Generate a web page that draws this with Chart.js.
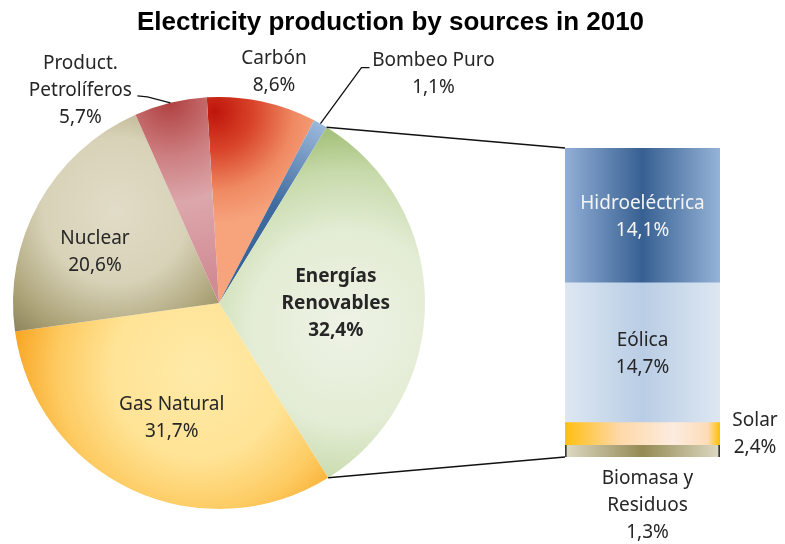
<!DOCTYPE html>
<html>
<head>
<meta charset="utf-8">
<script src="https://cdn.jsdelivr.net/npm/chart.js@4.4.1/dist/chart.umd.min.js"></script>
<style>
  body { margin: 0; background: #fff; }
  #wrap { position: relative; width: 785px; height: 544px; }
  #wrap canvas { position: absolute; left: 0; top: 0; }
</style>
</head>
<body>
<div id="wrap">
  <canvas id="pie" width="785" height="544"></canvas>
  <canvas id="bar" width="785" height="544"></canvas>
</div>
<script>
// electricity sources, share of total (%)
const sourceNames = [['Carbón'], ['Bombeo Puro'], ['Energías', 'Renovables'], ['Gas Natural'], ['Nuclear'], ['Product.', 'Petrolíferos']];
const sourceValues = [8.6, 1.1, 32.4, 31.7, 20.6, 5.7];

// breakdown of the renewables slice
const renewNames = [['Hidroeléctrica'], ['Eólica'], ['Solar'], ['Biomasa y', 'Residuos']];
const renewValues = [14.1, 14.7, 2.4, 1.3];

const chartTitle = 'Electricity production by sources in 2010';

const RENEW_INDEX = 2;
const TEXT = '#262626';
const LABEL_FONT = '19px "Noto Sans"';
const LINE_H = 27;

const pct = v => v.toFixed(1).replace('.', ',') + '%';

// radial shading per slice: centre (in radii from pie centre), reach, stops
const pieShading = [
  { at: [-0.02, -0.93], r: 0.55, stops: [[0, '#bf150b'], [0.35, '#d9452a'], [0.7, '#ef8a63'], [1, '#f7a47d']] },
  { at: [0, 0], r: 1, stops: [[0, '#345f93'], [0.55, '#3f6b9f'], [1, '#9bb8dc']] },
  { at: [0.62, 0.12], r: 0.95, stops: [[0, '#eef3e6'], [0.5, '#e3ecd4'], [0.8, '#c7daab'], [1, '#a6c27b']] },
  { at: [-0.1, 0.33], r: 0.95, stops: [[0, '#ffeaa8'], [0.45, '#ffe395'], [0.72, '#fdcb62'], [1, '#f89e18']] },
  { at: [-0.5, -0.45], r: 0.78, stops: [[0, '#e1dcc7'], [0.45, '#d8d2b8'], [0.8, '#aba276'], [1, '#8a815b']] },
  { at: [-0.24, -0.98], r: 0.9, stops: [[0, '#b03f3f'], [0.3, '#cd7f81'], [0.55, '#dca7ab'], [1, '#d18b93']] }
];

// horizontal shading for the stacked bar segments
const barShading = [
  [[0, '#92afd6'], [0.5, '#376092'], [1, '#95b3d7']],
  [[0, '#dde7f2'], [0.5, '#b9cde5'], [1, '#dde7f2']],
  [[0, '#ffbf10'], [0.35, '#fed8a8'], [0.7, '#fcecdf'], [0.92, '#fddcb8'], [1, '#ffc000']],
  [[0, '#ddd9c3'], [0.5, '#948a54'], [1, '#ddd9c3']]
];

// where each slice label sits: polar point (fraction of radius) + nudge
const pieLabelPos = [
  { frac: 1, dx: 12, dy: -29 },
  { frac: 1, dx: 113, dy: -50, leader: [[-72, -6], [-64, -6]] },
  { frac: 0.567, dx: 0, dy: 1, bold: true },
  { frac: 0.6, dx: 5, dy: 3 },
  { frac: 0.65, dx: -7, dy: 14 },
  { frac: 1, dx: -90, dy: -12, leader: [[67, 6], [57, 5]] }
];

function pieFill(ctx) {
  const area = ctx.chart.chartArea;
  if (!area || ctx.dataIndex === undefined) return '#ccc';
  const cx = (area.left + area.right) / 2;
  const cy = (area.top + area.bottom) / 2;
  const R = Math.min(area.width, area.height) / 2;
  const s = pieShading[ctx.dataIndex];
  const gx = cx + s.at[0] * R, gy = cy + s.at[1] * R;
  const g = ctx.chart.ctx.createRadialGradient(gx, gy, 0, gx, gy, s.r * R);
  s.stops.forEach(([o, c]) => g.addColorStop(o, c));
  return g;
}

function barFill(ctx) {
  const area = ctx.chart.chartArea;
  if (!area) return '#ccc';
  const g = ctx.chart.ctx.createLinearGradient(area.left, 0, area.right, 0);
  barShading[ctx.datasetIndex].forEach(([o, c]) => g.addColorStop(o, c));
  return g;
}

function drawLines(c, lines, x, y) {
  const top = y - (lines.length - 1) * LINE_H / 2;
  lines.forEach((t, i) => c.fillText(t, x, top + i * LINE_H));
}

const pieLabels = {
  id: 'pieLabels',
  afterDatasetsDraw(chart) {
    const c = chart.ctx;
    const arcs = chart.getDatasetMeta(0).data;
    c.save();

    // heading across the whole canvas
    c.fillStyle = '#000';
    c.font = 'bold 26px "Liberation Sans", Arial';
    c.textAlign = 'center';
    c.textBaseline = 'alphabetic';
    c.fillText(chartTitle, chart.width / 2 - 2, 30);

    c.textBaseline = 'middle';
    arcs.forEach((arc, i) => {
      const p = pieLabelPos[i];
      const mid = (arc.startAngle + arc.endAngle) / 2;
      const ox = arc.x + Math.cos(mid) * arc.outerRadius;
      const oy = arc.y + Math.sin(mid) * arc.outerRadius;
      const lx = arc.x + Math.cos(mid) * arc.outerRadius * p.frac + p.dx;
      const ly = arc.y + Math.sin(mid) * arc.outerRadius * p.frac + p.dy;
      if (p.leader) {
        c.strokeStyle = '#111';
        c.lineWidth = 1.3;
        c.beginPath();
        c.moveTo(ox, oy);
        p.leader.forEach(([dx, dy]) => c.lineTo(lx + dx, ly + dy));
        c.stroke();
      }
      c.fillStyle = TEXT;
      c.font = (p.bold ? 'bold ' : '') + LABEL_FONT;
      drawLines(c, sourceNames[i].concat(pct(sourceValues[i])), lx, ly);
    });
    c.restore();
  }
};

const pieChart = new Chart(document.getElementById('pie'), {
  type: 'pie',
  data: {
    labels: sourceNames.map(n => n.join(' ')),
    datasets: [{
      data: sourceValues,
      backgroundColor: pieFill,
      borderWidth: 0,
      hoverBorderWidth: 0,
      offset: 0,
      hoverOffset: 0
    }]
  },
  options: {
    responsive: false,
    animation: false,
    events: [],
    rotation: -3.4,
    layout: { padding: { left: 13, right: 360, top: 97, bottom: 35 } },
    plugins: {
      legend: { display: false },
      tooltip: { enabled: false },
      title: { display: false }
    }
  },
  plugins: [pieLabels]
});

// lines from the renewables slice to the bar, plus the bar labels
const barDecor = {
  id: 'barDecor',
  afterDatasetsDraw(chart) {
    const c = chart.ctx;
    const arc = pieChart.getDatasetMeta(0).data[RENEW_INDEX];
    const first = chart.getDatasetMeta(0).data[0];
    const last = chart.getDatasetMeta(renewValues.length - 1).data[0];
    const left = first.x - first.width / 2;
    const barTop = Math.min(first.y, first.base);
    const barBottom = Math.max(last.y, last.base);

    c.save();
    c.strokeStyle = '#111';
    c.lineWidth = 1.5;
    c.beginPath();
    c.moveTo(arc.x + Math.cos(arc.startAngle) * arc.outerRadius, arc.y + Math.sin(arc.startAngle) * arc.outerRadius);
    c.lineTo(left, barTop);
    c.moveTo(arc.x + Math.cos(arc.endAngle) * arc.outerRadius, arc.y + Math.sin(arc.endAngle) * arc.outerRadius);
    c.lineTo(left, barBottom);
    c.stroke();

    c.font = LABEL_FONT;
    c.textAlign = 'center';
    c.textBaseline = 'middle';
    renewNames.forEach((name, i) => {
      const bar = chart.getDatasetMeta(i).data[0];
      const y0 = Math.min(bar.y, bar.base), y1 = Math.max(bar.y, bar.base);
      const lines = name.concat(pct(renewValues[i]));
      let x = bar.x, y = (y0 + y1) / 2 + 2;
      if (i === 2) { x = bar.x + bar.width / 2 + 35; y = (y0 + y1) / 2 + 1; }
      if (i === 3) { x = bar.x + 5; y = y1 + 49; }
      c.fillStyle = i === 0 ? '#f4f4f4' : TEXT;
      drawLines(c, lines, x, y);
    });
    c.restore();
  }
};

new Chart(document.getElementById('bar'), {
  type: 'bar',
  data: {
    labels: [''],
    datasets: renewValues.map((v, i) => ({
      label: renewNames[i].join(' '),
      data: [v],
      backgroundColor: barFill,
      borderColor: '#3a3a3a',
      borderWidth: i === renewValues.length - 1 ? { left: 2, right: 2, top: 0, bottom: 0 } : 0,
      borderSkipped: false,
      barPercentage: 1,
      categoryPercentage: 1
    }))
  },
  options: {
    responsive: false,
    animation: false,
    events: [],
    layout: { padding: { left: 565, right: 65, top: 148, bottom: 87 } },
    scales: {
      x: { display: false, stacked: true },
      y: { display: false, stacked: true, reverse: true, min: 0, max: renewValues.reduce((a, b) => a + b, 0) }
    },
    plugins: {
      legend: { display: false },
      tooltip: { enabled: false }
    }
  },
  plugins: [barDecor]
});
</script>
</body>
</html>
